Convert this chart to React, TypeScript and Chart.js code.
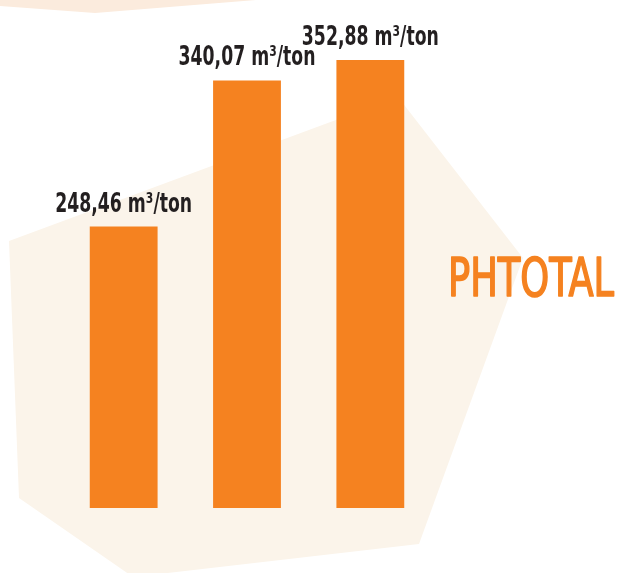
import React, { useEffect, useRef } from "react";
import { Chart, registerables } from "chart.js";

Chart.register(...registerables);

const categories = ["Periode 1", "Periode 2", "Periode 3"];
const values = [248.46, 340.07, 352.88];
const unit = " m³/ton";
const title = "PHTOTAL";

const ORANGE = "#F58220";
const TEXT = "#231F20";
const FONT = "'DejaVu Sans Condensed', 'Liberation Sans Narrow', 'Liberation Sans', sans-serif";

const fmt = (v: number) => v.toFixed(2).replace(".", ",");

const decoPlugin = {
  id: "deco",
  beforeDraw(chart: any) {
    const ctx = chart.ctx;
    ctx.save();
    ctx.fillStyle = "#FBEBDD";
    ctx.beginPath();
    ctx.moveTo(0, -2);
    ctx.lineTo(256, -2);
    ctx.lineTo(256, 0);
    ctx.lineTo(95, 13);
    ctx.lineTo(0, 6);
    ctx.closePath();
    ctx.fill();

    ctx.fillStyle = "#FBF4EA";
    ctx.beginPath();
    ctx.moveTo(9, 241);
    ctx.lineTo(398, 97);
    ctx.lineTo(523, 258);
    ctx.lineTo(419, 544);
    ctx.lineTo(133, 577);
    ctx.lineTo(19, 498);
    ctx.closePath();
    ctx.fill();
    ctx.restore();
  },
  afterDatasetsDraw(chart: any) {
    const ctx = chart.ctx;
    const meta = chart.getDatasetMeta(0);
    ctx.save();
    ctx.fillStyle = TEXT;
    ctx.textBaseline = "alphabetic";
    ctx.textAlign = "left";
    ctx.font = `bold 26px ${FONT}`;
    const refW = ctx.measureText(fmt(values[0]) + unit).width;
    const sx = 137 / refW;
    meta.data.forEach((bar: any, i: number) => {
      const txt = fmt(values[i]) + unit;
      const w = ctx.measureText(txt).width * sx;
      ctx.save();
      ctx.translate(bar.x - w / 2, bar.y - 15);
      ctx.scale(sx, 1);
      ctx.fillText(txt, 0, 0);
      ctx.restore();
    });
    ctx.fillStyle = ORANGE;
    ctx.strokeStyle = ORANGE;
    ctx.lineWidth = 1.6;
    ctx.lineJoin = "round";
    ctx.font = `53px ${FONT}`;
    const sx2 = 166 / ctx.measureText(title).width;
    ctx.save();
    ctx.translate(448, 296);
    ctx.scale(sx2, 1);
    ctx.fillText(title, 0, 0);
    ctx.strokeText(title, 0, 0);
    ctx.restore();
    ctx.restore();
  },
};

export default function App() {
  const ref = useRef<HTMLCanvasElement>(null);
  useEffect(() => {
    if (!ref.current) return;
    const chart = new Chart(ref.current, {
      type: "bar",
      data: {
        labels: categories,
        datasets: [
          {
            data: values,
            backgroundColor: ORANGE,
            borderWidth: 0,
            barPercentage: 0.55,
            categoryPercentage: 1,
          },
        ],
      },
      options: {
        animation: false,
        responsive: false,
        maintainAspectRatio: false,
        layout: { padding: { left: 62, right: 189, top: 40, bottom: 65 } },
        plugins: { legend: { display: false }, tooltip: { enabled: false } },
        scales: {
          x: { display: false },
          y: { display: false, min: 72, max: 365.4 },
        },
      },
      plugins: [decoPlugin],
    });
    return () => chart.destroy();
  }, []);
  return (
    <div style={{ position: "fixed", left: 0, top: 0, width: 621, height: 573, background: "#fff" }}>
      <canvas ref={ref} width={621} height={573} style={{ display: "block" }} />
    </div>
  );
}
